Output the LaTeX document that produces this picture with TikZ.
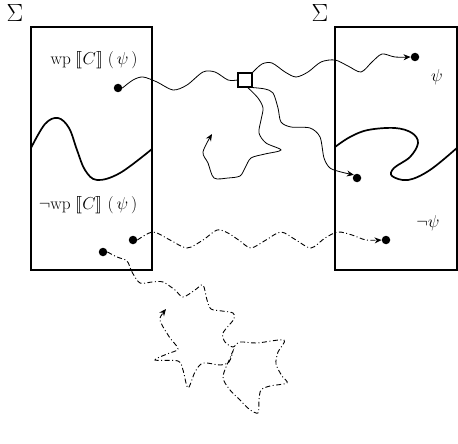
\documentclass[tikz,border=0pt]{standalone}
\usepackage{stmaryrd}
\usetikzlibrary{arrows.meta}
\begin{document}
\begin{tikzpicture}[x=1pt,y=-1pt,
  region/.style={draw,line width=1.7pt,inner sep=0pt,outer sep=0pt},
  dot/.style={circle,fill,inner sep=0pt,minimum size=8.5pt},
  boxsq/.style={draw,line width=1.1pt,fill=white,inner sep=0pt,minimum size=14pt},
  bound/.style={line width=1.7pt},
  run/.style={line width=0.8pt},
  dd/.style={line width=0.9pt,dash pattern=on 5pt off 2.5pt on 1pt off 2.5pt},
  tip/.style={-{Stealth[length=7pt,width=6pt]}},
  lab/.style={inner sep=0pt,font=\fontsize{16}{18}\selectfont},
  sig/.style={inner sep=0pt,font=\fontsize{23}{25}\selectfont}
]
\useasboundingbox (0,0) rectangle (458,444);
% regions
\node[region,minimum width=121.5pt,minimum height=243pt] (L) at (91.5,148.5) {};
\node[region,minimum width=122pt,minimum height=243pt] (R) at (396,148.5) {};
\node[sig] (s1) at (15,13) {$\Sigma$};
\node[sig] (s2) at (320,13) {$\Sigma$};
\node[lab] (wp) at (94,60) {$\mathrm{wp}\ \llbracket C\rrbracket\ (\,\psi\,)$};
\node[lab] (nwp) at (88,205) {$\neg\mathrm{wp}\ \llbracket C\rrbracket\ (\,\psi\,)$};
\node[lab,font=\fontsize{19}{21}\selectfont] (psi) at (437,77) {$\psi$};
\node[lab,font=\fontsize{19}{21}\selectfont] (npsi) at (428,223) {$\neg\psi$};
% boundaries
\draw[bound] plot[smooth,tension=0.6] coordinates {(31,148) (45,124) (58,118) (69,128) (77,150) (85,170) (97,180) (120,173) (152,149)};
\draw[bound] plot[smooth,tension=0.6] coordinates {(335,147) (350,137) (368,130) (395,128) (412,133) (418,143) (410,157) (394,168) (392,176) (408,180) (430,170) (458,147)};
% dots and square
\node[dot] (d1) at (118,88) {};
\node[dot] (d2) at (415,57) {};
\node[dot] (d3) at (357,178) {};
\node[dot] (d4) at (133,240) {};
\node[dot] (d5) at (386,240) {};
\node[dot] (d6) at (103,252) {};
\node[boxsq] (sq) at (245,80) {};
\coordinate (e1) at (212,134);
\coordinate (e2) at (166,309);
% connectors
\draw[run] plot[smooth] coordinates {(d1.east) (133,80) (143,77) (157,82) (173,90) (187,85) (203,72) (215,72) (228,80) (sq.west)};
\draw[run,tip] plot[smooth] coordinates {(sq.north east) (262,64) (272,63) (285,72) (296,77) (308,72) (321,62) (335,60) (348,66) (361,72) (372,62) (382,54) (395,57) (d2.west)};
\draw[run,tip] plot[smooth] coordinates {(sq.south east) (265,89) (273,93) (278,108) (281,122) (291,127) (310,128) (320,137) (324,158) (330,168) (341,172) (d3.north west)};
\draw[run,tip] plot[smooth] coordinates {(sq.-70) (258,98) (263,108) (261,120) (259,133) (266,143) (281,150) (265,154) (251,158) (245,168) (240,176) (228,178) (214,178) (208,163) (203,152) (e1)};
\draw[dd,tip] plot[smooth] coordinates {(d4.east) (153,232) (170,240) (187,248) (203,240) (217,230) (228,233) (240,241) (251,248) (266,240) (281,232) (296,240) (311,248) (325,238) (338,232) (352,235) (366,240) (d5.west)};
\draw[dd,tip] plot[smooth,tension=0.5] coordinates {(d6.east) (117,257) (127,261) (132,272) (140,283) (152,282) (163,282) (175,290) (183,297) (195,290) (203,285) (207,300) (211,309) (222,311) (233,313) (234,319) (223,333) (225,342) (233,347) (240,342) (257,343) (284,340) (278,352) (276,364) (282,376) (287,383) (270,386) (261,390) (259,400) (258,413) (249,409) (240,400) (230,390) (223,377) (230,358) (233,351) (229,362) (220,365) (203,363) (195,372) (188,388) (183,370) (178,361) (155,360) (167,354) (178,349) (170,338) (162,325) (160,318) (e2)};
\end{tikzpicture}
\end{document}
